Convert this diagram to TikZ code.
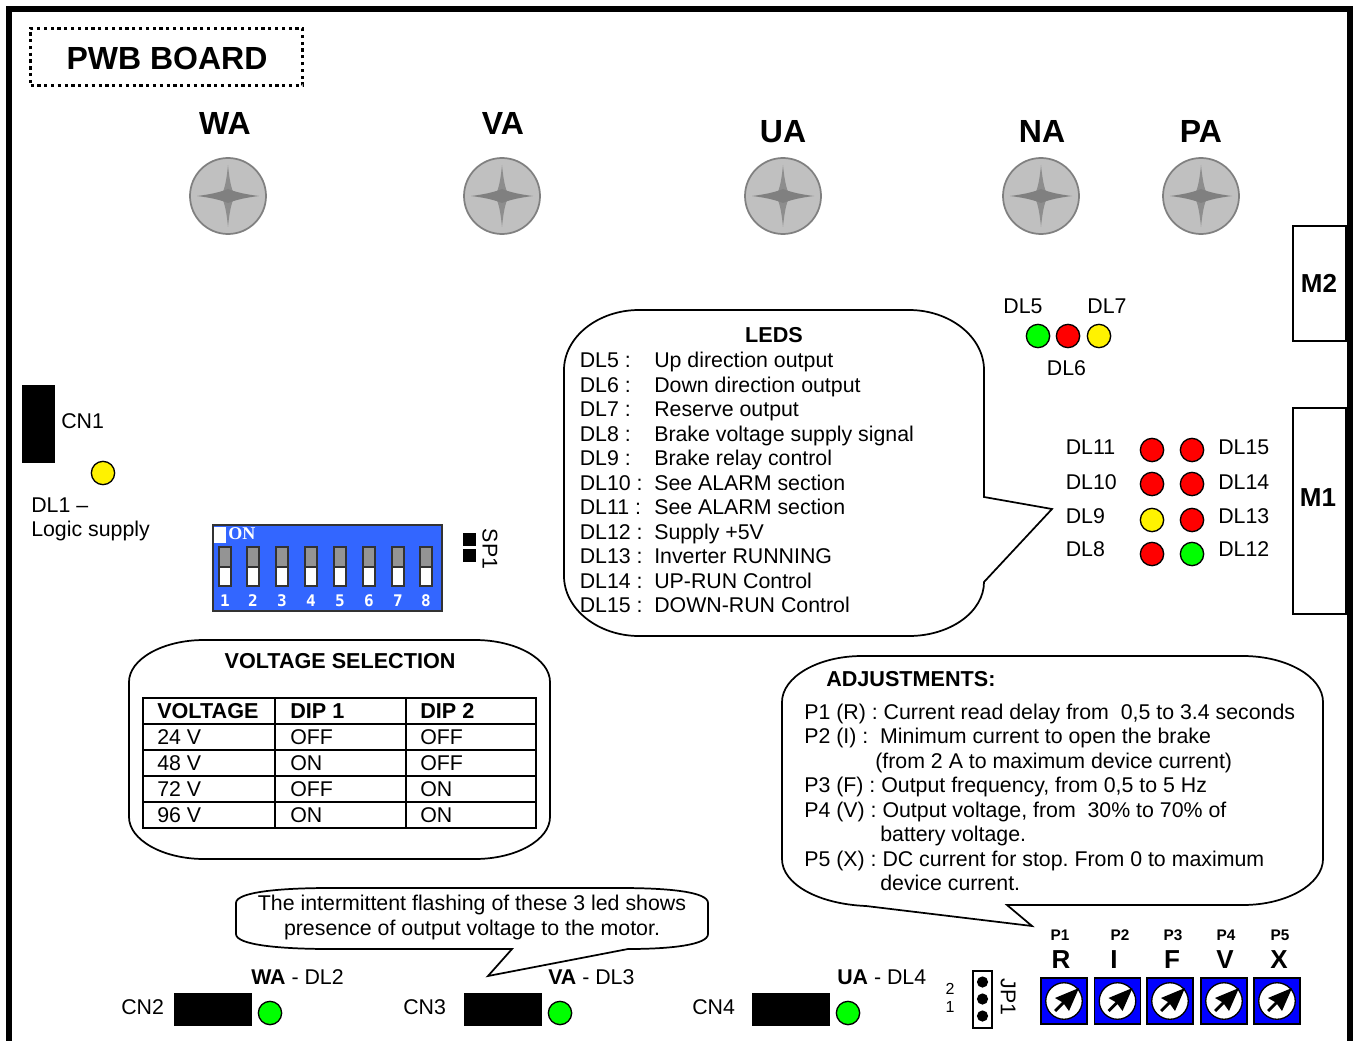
\documentclass[tikz,border=0pt]{standalone}
\usepackage{fontspec}
\setmainfont{Liberation Sans}
\newfontfamily\dipserif{Liberation Serif}
\newfontfamily\dipmono{DejaVu Sans Mono}
\usetikzlibrary{positioning, calc}
\definecolor{dipblue}{HTML}{3366FF}
\definecolor{potblue}{HTML}{0000FF}
\definecolor{screwfill}{HTML}{C0C0C0}
\definecolor{screwdark}{HTML}{808080}
\tikzstyle{lab} = [anchor=base west, inner sep=0pt, font=\fontsize{16}{18}\selectfont]
\tikzstyle{labb} = [lab, font=\fontsize{16.2}{18}\selectfont\bfseries]
\tikzstyle{big} = [anchor=base, inner sep=0pt, font=\fontsize{24}{26}\selectfont\bfseries]
\tikzstyle{led} = [draw, circle, line width=1pt, minimum size=17.5pt, inner sep=0pt]
\tikzstyle{bubble} = [draw, line width=1.3pt, fill=white]

\begin{document}
\frenchspacing
\begin{tikzpicture}[x=0.75pt, y=-0.75pt]
    \useasboundingbox (0,0) rectangle (1356,1041);
    % frame
    \draw[line width=3.8pt] (9,1041) -- (9,9) -- (1350,9) -- (1350,1041);
    \node[draw, dash pattern=on 2.5pt off 2.6pt, line width=2.5pt, minimum width=204pt, minimum height=43pt, inner sep=0pt] (title) at (166.5,57) {};
    \node[big] (titletext) at (167,70) {PWB BOARD};

    % screws
    \foreach \name/\x/\lx/\ly in {WA/228/225/135, VA/502/503/135, UA/783/783/143, NA/1041/1042/143, PA/1201/1201/143} {
        \node[draw=screwdark, fill=screwfill, circle, line width=1.3pt, minimum size=57pt, inner sep=0pt] (screw\name) at (\x,196) {};
        \fill[screwdark!80!screwfill] (\x,165) .. controls (\x+2,185) and (\x+4,190) .. (\x+7,196) .. controls (\x+4,202) and (\x+2,207) .. (\x,227) .. controls (\x-2,207) and (\x-4,202) .. (\x-7,196) .. controls (\x-4,190) and (\x-2,185) .. (\x,165) -- cycle;
        \fill[screwdark] (\x-31,196) .. controls (\x-15,194) and (\x-8,192) .. (\x,189) .. controls (\x+8,192) and (\x+15,194) .. (\x+31,196) .. controls (\x+15,198) and (\x+8,200) .. (\x,203) .. controls (\x-8,200) and (\x-15,198) .. (\x-31,196) -- cycle;
        \node[big] (lab\name) at (\lx,\ly) {\name};
    }

    % M connectors
    \node[draw, line width=1.1pt, minimum width=39.5pt, minimum height=86pt, inner sep=0pt] (mtwo) at (1319.5,283.5) {};
    \node[draw, line width=1.1pt, minimum width=39.5pt, minimum height=154.5pt, inner sep=0pt] (mone) at (1319.5,511) {};
    \node[big, font=\fontsize{19.5}{22}\selectfont\bfseries] (mtwotext) at (1319,292) {M2};
    \node[big, font=\fontsize{19.5}{22}\selectfont\bfseries] (monetext) at (1318,506) {M1};

    % CN1 and DL1
    \fill (22,385) rectangle (55,463);
    \node[lab] (cnone) at (61,428) {CN1};
    \node[led, fill=yellow] (dlone) at (103,473) {};
    \node[lab] (dlonetext) at (31,512) {DL1 –};
    \node[lab] (logic) at (31,536.5) {Logic supply};

    % dip switch
    \draw[fill=dipblue, line width=1pt, draw=black!80] (213,525) rectangle (442,611);
    \fill[white] (214,527) rectangle (226,543);
    \node[lab, text=white, font=\fontsize{13.5}{14}\dipserif\bfseries] (dipon) at (228,539.5) {ON};
    \foreach \n/\x in {1/225, 2/253, 3/282, 4/311, 5/340, 6/369, 7/398, 8/426} {
        \draw[fill=black!42, draw=black!80, line width=1.1pt] (\x-6,547) rectangle (\x+6,567);
        \draw[fill=white, draw=black!80, line width=1.1pt] (\x-6,567) rectangle (\x+6,586);
        \node[anchor=base, inner sep=0pt, text=white, font=\fontsize{12}{14}\dipmono\bfseries] (dipnum\n) at (\x,606) {\n};
    }
    \fill (463,533) rectangle (476,546);
    \fill (463,549) rectangle (476,562);
    \node[lab, anchor=center, rotate=-90] (spone) at (490,549) {SP1};

    % LEDS bubble
    \draw[bubble] (564,370) .. controls (564,337) and (598,310) .. (639,310) -- (909,310) .. controls (950,310) and (984,337) .. (984,370) -- (984,497) -- (1052,509) -- (984,582) .. controls (984,612) and (950,636) .. (909,636) -- (639,636) .. controls (598,636) and (564,609) .. (564,576) -- cycle;
    \node[labb, anchor=base] (ledstitle) at (774,342) {LEDS};
    \foreach \n/\y/\txt in {5/367.5/Up direction output, 6/392/Down direction output, 7/416.5/Reserve output, 8/441/Brake voltage supply signal, 9/465.5/Brake relay control, 10/490/See ALARM section, 11/514.5/See ALARM section, 12/539/Supply +5V, 13/563.5/Inverter RUNNING, 14/588/UP-RUN Control, 15/612.5/DOWN-RUN Control} {
        \node[lab] (dlname\n) at (579.5,\y) {DL\n\ :};
        \node[lab] (dltext\n) at (654,\y) {\txt};
    }

    % upper leds
    \node[led, fill=green] (dlfive) at (1038,336) {};
    \node[led, fill=red] (dlsix) at (1068,336) {};
    \node[led, fill=yellow] (dlseven) at (1099,336) {};
    \node[lab, anchor=base] (dlfivetext) at (1023,314) {DL5};
    \node[lab, anchor=base] (dlseventext) at (1107,314) {DL7};
    \node[lab, anchor=base] (dlsixtext) at (1066.5,375) {DL6};

    % M1 leds
    \foreach \n/\m/\cola/\colb/\yl/\y in {11/15/red/red/450/454.5, 10/14/red/red/484/489, 9/13/yellow/red/520/523, 8/12/red/green/554/556} {
        \node[led, fill=\cola] (led\n) at (1152,\yl) {};
        \node[led, fill=\colb] (led\m) at (1192,\yl) {};
        \node[lab] (ledtext\n) at (1065.5,\y) {DL\n};
        \node[lab] (ledtext\m) at (1218,\y) {DL\m};
    }

    % voltage bubble
    \draw[bubble] (129,682) .. controls (129,659) and (163,640) .. (204,640) -- (475,640) .. controls (516,640) and (550,659) .. (550,682) -- (550,817) .. controls (550,840) and (516,859) .. (475,859) -- (204,859) .. controls (163,859) and (129,840) .. (129,817) -- cycle;
    \node[labb, anchor=base] (volttitle) at (340,668) {VOLTAGE SELECTION};
    \draw[line width=1.5pt] (143,698) rectangle (536,828);
    \draw[line width=1.5pt] (275,698) -- (275,828) (406,698) -- (406,828);
    \foreach \y in {724,750,776,802} {\draw[line width=1.5pt] (143,\y) -- (536,\y);}
    \node[labb] (thvolt) at (157,718.5) {VOLTAGE};
    \node[labb] (thone) at (290,718.5) {DIP 1};
    \node[labb] (thtwo) at (420,718.5) {DIP 2};
    \foreach \v/\a/\b/\y in {24/OFF/OFF/744.5, 48/ON/OFF/770.5, 72/OFF/ON/796.5, 96/ON/ON/822.5} {
        \node[lab] (volt\v) at (157,\y) {\v\ V};
        \node[lab] (dipa\v) at (290,\y) {\a};
        \node[lab] (dipb\v) at (420,\y) {\b};
    }

    % adjustments bubble
    \draw[bubble] (782,702) .. controls (782,677) and (818,656) .. (862,656) -- (1243,656) .. controls (1287,656) and (1323,677) .. (1323,702) -- (1323,859) .. controls (1323,884) and (1287,905) .. (1243,905) -- (1007,905) -- (1032,926) -- (866,906) .. controls (818,904) and (782,884) .. (782,859) -- cycle;
    \node[labb] (adjtitle) at (826,686) {ADJUSTMENTS:};
    \node[lab] (adjone) at (804,719) {P1 (R) : Current read delay from\ \ 0,5 to 3.4 seconds};
    \node[lab] (adjtwo) at (804,743.5) {P2 (I) :\ \ Minimum current to open the brake};
    \node[lab] (adjtwob) at (875,768) {(from 2 A to maximum device current)};
    \node[lab] (adjthree) at (804,792.5) {P3 (F) : Output frequency, from 0,5 to 5 Hz};
    \node[lab] (adjfour) at (804,817) {P4 (V) : Output voltage, from\ \ 30\% to 70\% of};
    \node[lab] (adjfourb) at (880,841.5) {battery voltage.};
    \node[lab] (adjfive) at (804,866) {P5 (X) : DC current for stop. From 0 to maximum};
    \node[lab] (adjfiveb) at (880,890.5) {device current.};

    % flashing bubble
    \draw[bubble] (236,918) -- (236,903) .. controls (236,892) and (280,888) .. (330,888) -- (620,888) .. controls (670,888) and (708,892) .. (708,903) -- (708,934) .. controls (708,945) and (670,949) .. (628,949) -- (488,976) -- (512,949) -- (330,949) .. controls (280,949) and (236,945) .. (236,934) -- cycle;
    \node[lab, anchor=base] (flashone) at (472,910) {The intermittent flashing of these 3 led shows};
    \node[lab, anchor=base] (flashtwo) at (472,935) {presence of output voltage to the motor.};

    % bottom connectors
    \foreach \cn/\tx/\bx/\lx/\phase/\dl in {CN2/121/174/251/WA/DL2, CN3/403/464/548/VA/DL3, CN4/692/752/837/UA/DL4} {
        \node[lab] (text\cn) at (\tx,1014) {\cn};
        \fill (\bx,993) rectangle (\bx+78,1026);
        \node[led, fill=green] (led\cn) at (\bx+96,1013) {};
        \node[lab] (phase\cn) at (\lx,984) {\textbf{\phase} - \dl};
    }

    % jumper
    \draw[line width=1.3pt] (973,971) rectangle (992,1028);
    \foreach \y in {982,999,1016} {\fill (982.5,\y) circle (4.2pt);}
    \node[anchor=center, inner sep=0pt, font=\fontsize{12}{14}\selectfont] (jptwo) at (950,989) {2};
    \node[anchor=center, inner sep=0pt, font=\fontsize{12}{14}\selectfont] (jpone) at (950,1007) {1};
    \node[lab, anchor=center, rotate=-90] (jptext) at (1008,997) {JP1};

    % trimmers
    \foreach \p/\l/\x/\lx/\px in {1/R/1064/1061/1060, 2/I/1117.5/1114/1120, 3/F/1170/1172/1173, 4/V/1224/1225/1226, 5/X/1277/1279/1280} {
        \node[anchor=base, inner sep=0pt, font=\fontsize{11.5}{13}\selectfont\bfseries] (pot\p) at (\px,940) {P\p};
        \node[anchor=base, inner sep=0pt, font=\fontsize{19.5}{22}\selectfont\bfseries] (potl\p) at (\lx,968) {\l};
        \draw[fill=potblue, line width=1pt] (\x-23,978) rectangle (\x+23,1024);
        \draw[fill=white, line width=1pt] (\x,1001) circle (13.7pt);
        \fill (\x+15,988) -- (\x-9,998) -- (\x-2,1002) -- (\x-10,1010) -- (\x-8,1012) -- (\x,1004) -- (\x+5,1011) -- cycle;
    }
\end{tikzpicture}
\end{document}
